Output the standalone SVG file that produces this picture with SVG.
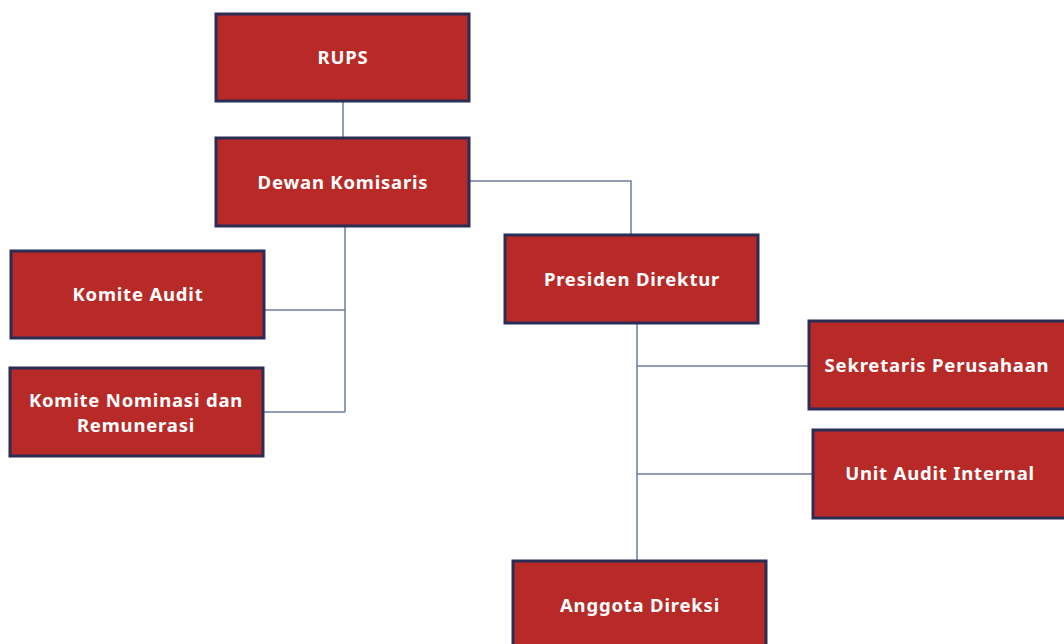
<svg xmlns="http://www.w3.org/2000/svg" width="1064" height="644" viewBox="0 0 1064 644">
<style>
.box{fill:#b82a28;stroke:#2b2d55;stroke-width:3}
.lbl{fill:#ffffff;font-family:"Noto Sans","DejaVu Sans",sans-serif;font-weight:bold;font-size:18.5px;letter-spacing:0.8px;text-anchor:middle;dominant-baseline:central}
.con{fill:none;stroke:#6e7d9c;stroke-width:1.5}
</style>
<rect width="1064" height="644" fill="#ffffff"/>
<g id="connectors">
<path class="con" d="M343 101V138"/>
<path class="con" d="M345 226V412M264 310H345M263 412H345"/>
<path class="con" d="M469 181H631V235"/>
<path class="con" d="M637 323V561M637 366H809M637 474H813"/>
</g>
<g id="rups"><rect class="box" x="216" y="14" width="253" height="87"/><text class="lbl" x="343" y="56">RUPS</text></g>
<g id="dewan-komisaris"><rect class="box" x="216" y="138" width="253" height="88"/><text class="lbl" x="343" y="181">Dewan Komisaris</text></g>
<g id="komite-audit"><rect class="box" x="11" y="251" width="253" height="87"/><text class="lbl" x="138" y="293">Komite Audit</text></g>
<g id="komite-nominasi"><rect class="box" x="10" y="368" width="253" height="88"/><text class="lbl" x="136" y="399">Komite Nominasi dan</text><text class="lbl" x="136" y="424">Remunerasi</text></g>
<g id="presiden-direktur"><rect class="box" x="505" y="235" width="253" height="88"/><text class="lbl" x="632" y="278">Presiden Direktur</text></g>
<g id="sekretaris-perusahaan"><rect class="box" x="809" y="321" width="257" height="88"/><text class="lbl" x="937" y="364">Sekretaris Perusahaan</text></g>
<g id="unit-audit-internal"><rect class="box" x="813" y="430" width="253" height="88"/><text class="lbl" x="940" y="472">Unit Audit Internal</text></g>
<g id="anggota-direksi"><rect class="box" x="513" y="561" width="253" height="90"/><text class="lbl" x="640" y="604">Anggota Direksi</text></g>
</svg>
